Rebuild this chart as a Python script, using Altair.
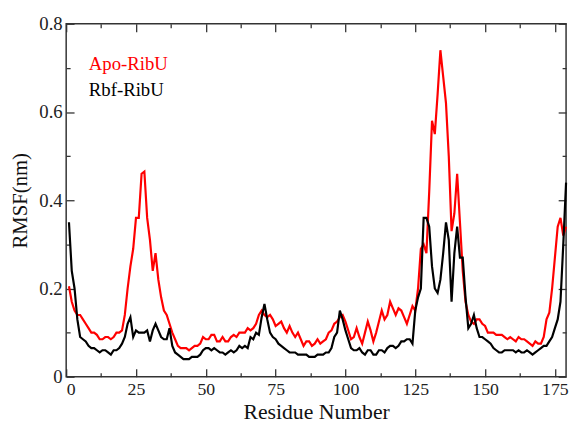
import altair as alt
import pandas as pd

FONT = "Liberation Serif"

residues = list(range(1, 180))

apo = [
    0.205, 0.17, 0.15, 0.14, 0.14, 0.13, 0.12, 0.11, 0.10, 0.10,
    0.095, 0.085, 0.085, 0.09, 0.09, 0.085, 0.09, 0.10, 0.10, 0.105,
    0.14, 0.20, 0.25, 0.29, 0.36, 0.36, 0.46, 0.465, 0.36, 0.31,
    0.24, 0.28, 0.22, 0.18, 0.15, 0.14, 0.12, 0.10, 0.085, 0.07,
    0.065, 0.065, 0.065, 0.06, 0.065, 0.07, 0.07, 0.075, 0.09, 0.085,
    0.085, 0.095, 0.095, 0.08, 0.08, 0.09, 0.08, 0.08, 0.09, 0.095,
    0.09, 0.10, 0.10, 0.10, 0.11, 0.105, 0.11, 0.12, 0.14, 0.15,
    0.14, 0.135, 0.14, 0.13, 0.115, 0.12, 0.125, 0.11, 0.10, 0.115,
    0.10, 0.09, 0.10, 0.085, 0.07, 0.08, 0.08, 0.07, 0.075, 0.085,
    0.075, 0.08, 0.085, 0.10, 0.105, 0.12, 0.125, 0.135, 0.14, 0.125,
    0.105, 0.085, 0.09, 0.11, 0.09, 0.075, 0.10, 0.125, 0.105, 0.08,
    0.10, 0.125, 0.15, 0.13, 0.14, 0.17, 0.155, 0.14, 0.155, 0.15,
    0.135, 0.12, 0.14, 0.16, 0.15, 0.20, 0.29, 0.30, 0.28, 0.42,
    0.58, 0.55, 0.64, 0.74, 0.68, 0.62, 0.50, 0.33, 0.37, 0.46,
    0.35, 0.24, 0.17, 0.14, 0.125, 0.12, 0.13, 0.13, 0.12, 0.115,
    0.10, 0.10, 0.10, 0.095, 0.095, 0.095, 0.09, 0.085, 0.09, 0.085,
    0.08, 0.09, 0.085, 0.085, 0.08, 0.075, 0.07, 0.08, 0.075, 0.075,
    0.09, 0.13, 0.145, 0.20, 0.27, 0.34, 0.36, 0.32, 0.34,
]

rbf = [
    0.35, 0.24, 0.20, 0.13, 0.09, 0.085, 0.08, 0.07, 0.065, 0.065,
    0.06, 0.055, 0.06, 0.06, 0.055, 0.05, 0.06, 0.06, 0.065, 0.075,
    0.09, 0.12, 0.135, 0.09, 0.105, 0.10, 0.10, 0.10, 0.105, 0.08,
    0.105, 0.12, 0.105, 0.09, 0.085, 0.085, 0.11, 0.07, 0.055, 0.05,
    0.045, 0.04, 0.04, 0.04, 0.045, 0.045, 0.045, 0.05, 0.06, 0.065,
    0.065, 0.06, 0.065, 0.06, 0.055, 0.055, 0.05, 0.055, 0.06, 0.055,
    0.06, 0.07, 0.065, 0.07, 0.065, 0.09, 0.085, 0.10, 0.095, 0.135,
    0.165, 0.13, 0.10, 0.09, 0.085, 0.075, 0.07, 0.065, 0.06, 0.055,
    0.055, 0.055, 0.05, 0.05, 0.05, 0.05, 0.045, 0.045, 0.045, 0.05,
    0.05, 0.05, 0.055, 0.055, 0.065, 0.09, 0.10, 0.15, 0.13, 0.105,
    0.085, 0.065, 0.06, 0.06, 0.065, 0.055, 0.05, 0.06, 0.06, 0.05,
    0.05, 0.06, 0.06, 0.055, 0.065, 0.07, 0.07, 0.065, 0.07, 0.08,
    0.08, 0.085, 0.085, 0.075, 0.15, 0.18, 0.20, 0.36, 0.36, 0.34,
    0.25, 0.20, 0.19, 0.22, 0.28, 0.35, 0.31, 0.17, 0.28, 0.34,
    0.27, 0.27, 0.18, 0.11, 0.12, 0.14, 0.11, 0.09, 0.09, 0.085,
    0.08, 0.075, 0.065, 0.06, 0.055, 0.055, 0.06, 0.06, 0.06, 0.06,
    0.055, 0.06, 0.055, 0.055, 0.06, 0.055, 0.05, 0.055, 0.06, 0.065,
    0.07, 0.07, 0.08, 0.09, 0.11, 0.13, 0.17, 0.30, 0.44,
]

series_names = ["Apo-RibU", "Rbf-RibU"]
series_colors = ["#ff0000", "#000000"]

x_major = [0, 25, 50, 75, 100, 125, 150, 175]
x_minor = [12.5, 37.5, 62.5, 87.5, 112.5, 137.5, 162.5]
y_major = [0, 0.2, 0.4, 0.6, 0.8]
y_minor = [0.1, 0.3, 0.5, 0.7]

df = pd.DataFrame({
    "Residue": residues * 2,
    "RMSF": apo + rbf,
    "Series": [series_names[0]] * len(apo) + [series_names[1]] * len(rbf),
})

xs = alt.Scale(domain=[0, 179], nice=False, zero=False)
ys = alt.Scale(domain=[0, 0.8], nice=False)
TICK = "#333333"

base = alt.Chart(df)

lines = base.mark_line(strokeWidth=2.2).encode(
    x=alt.X("Residue:Q", scale=xs, title="Residue Number",
            axis=alt.Axis(orient="bottom", values=x_major, tickSize=8, offset=-8,
                          tickColor=TICK, tickWidth=1.3, domain=False, grid=False,
                          labelFont=FONT, labelFontSize=18, labelPadding=4, labelColor="#222",
                          titleFont=FONT, titleFontSize=22, titleFontWeight="normal",
                          titlePadding=3, titleColor="#111")),
    y=alt.Y("RMSF:Q", scale=ys, title="RMSF(nm)",
            axis=alt.Axis(orient="left", values=y_major, tickSize=8, offset=-8, format="~g",
                          tickColor=TICK, tickWidth=1.3, domain=False, grid=False,
                          labelFont=FONT, labelFontSize=19, labelPadding=4, labelColor="#222",
                          titleFont=FONT, titleFontSize=21, titleFontWeight="normal",
                          titlePadding=8, titleColor="#111")),
    color=alt.Color("Series:N", scale=alt.Scale(domain=series_names, range=series_colors),
                    legend=None),
)


def tick_layer(xorient, xvals, yorient, yvals, size):
    return base.mark_point(opacity=0).encode(
        x=alt.X("Residue:Q", scale=xs, title=None,
                axis=alt.Axis(orient=xorient, values=xvals, tickSize=size, offset=-size,
                              tickColor=TICK, tickWidth=1.3, domain=False, grid=False,
                              labels=False)),
        y=alt.Y("RMSF:Q", scale=ys, title=None,
                axis=alt.Axis(orient=yorient, values=yvals, tickSize=size, offset=-size,
                              tickColor=TICK, tickWidth=1.3, domain=False, grid=False,
                              labels=False)),
    )


minor_bl = tick_layer("bottom", x_minor, "left", y_minor, 4)
major_tr = tick_layer("top", x_major, "right", y_major, 8)
minor_tr = tick_layer("top", x_minor, "right", y_minor, 4)

leg_df = pd.DataFrame({"name": series_names})
leg1 = alt.Chart(leg_df).transform_filter(alt.datum.name == series_names[0]).mark_text(
    align="left", baseline="middle", font=FONT, fontSize=19, color=series_colors[0]
).encode(x=alt.value(23), y=alt.value(41), text="name:N")
leg2 = alt.Chart(leg_df).transform_filter(alt.datum.name == series_names[1]).mark_text(
    align="left", baseline="middle", font=FONT, fontSize=19, color=series_colors[1]
).encode(x=alt.value(23), y=alt.value(67), text="name:N")

chart = alt.layer(lines, minor_bl, major_tr, minor_tr, leg1, leg2).resolve_axis(
    x="independent", y="independent"
).properties(
    width=507, height=358,
    autosize=alt.AutoSizeParams(type="none"),
    padding={"left": 59, "top": 13, "right": 5, "bottom": 48},
).configure_view(stroke="#333333", strokeWidth=1.5)

chart.save("out.html", embed_options={"renderer": "svg", "actions": False})
